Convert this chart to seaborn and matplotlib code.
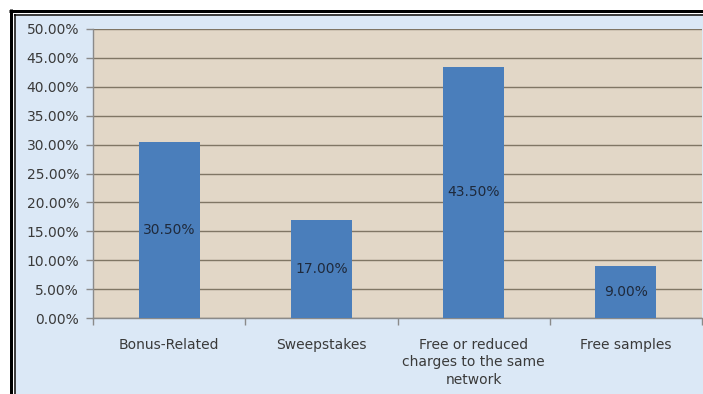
import matplotlib
matplotlib.use("Agg")
import matplotlib.pyplot as plt
from matplotlib.patches import Rectangle
from matplotlib.lines import Line2D
from matplotlib.ticker import FixedLocator, FuncFormatter
import seaborn as sns
import pandas as pd

categories = ["Bonus-Related", "Sweepstakes",
              "Free or reduced\ncharges to the same\nnetwork", "Free samples"]
shares = [30.5, 17.0, 43.5, 9.0]
y_ticks = [0, 5, 10, 15, 20, 25, 30, 35, 40, 45, 50]

df = pd.DataFrame({"category": categories, "share": shares})

sns.set_theme(style="white")
plt.rcParams["font.family"] = ["DejaVu Sans"]

W, H = 703, 394
fig = plt.figure(figsize=(W / 100, H / 100), dpi=100)
fig.patch.set_facecolor("white")

# light blue chart area inside a double black frame (left and top edges visible)
fig.patches.append(Rectangle((16 / W, 0), 1, 1 - 16 / H, transform=fig.transFigure,
                             facecolor="#dbe8f6", edgecolor="none", zorder=-10))
for x0, lw_px in [(10.5, 3.0), (14.75, 1.5)]:
    lw = lw_px * 0.72
    fig.lines.append(Line2D([x0 / W, x0 / W], [0, 1 - (x0 - lw_px / 2) / H],
                            transform=fig.transFigure, color="black", lw=lw,
                            solid_capstyle="butt", zorder=-5))
    fig.lines.append(Line2D([(x0 - lw_px / 2) / W, 1], [1 - x0 / H, 1 - x0 / H],
                            transform=fig.transFigure, color="black", lw=lw,
                            solid_capstyle="butt", zorder=-5))

left, right, top, bottom = 93, 702, 29, 318
ax = fig.add_axes([left / W, 1 - bottom / H, (right - left) / W, (bottom - top) / H])
ax.set_zorder(1)
ax.set_facecolor("#e2d7c7")

sns.barplot(data=df, x="category", y="share", color="#4a7ebb", saturation=1,
            width=0.4, ax=ax, zorder=3, edgecolor="none", linewidth=0)

ax.set_ylim(0, 50)
ax.set_xlim(-0.5, len(categories) - 0.5)
ax.yaxis.set_major_locator(FixedLocator(y_ticks))
ax.yaxis.set_major_formatter(FuncFormatter(lambda v, p: f"{v:.2f}%"))
ax.grid(axis="y", color="#807665", lw=1.0, zorder=1)
ax.set_axisbelow(True)

for s in ["top", "right"]:
    ax.spines[s].set_visible(False)
for s in ["left", "bottom"]:
    ax.spines[s].set_color("#8a8a8a")
    ax.spines[s].set_linewidth(1.0)

text_col = "#3a3a3a"
ax.tick_params(axis="y", which="major", length=5, width=1, color="#8a8a8a",
               labelsize=10, labelcolor=text_col, pad=5, left=True)
ax.set_xticks(range(len(categories)))
ax.set_xticklabels(categories, fontsize=10, color=text_col, linespacing=1.3, va="top")
ax.tick_params(axis="x", which="major", length=0, pad=14.5)
ax.set_xticks([i - 0.5 for i in range(len(categories) + 1)], minor=True)
ax.tick_params(axis="x", which="minor", length=5, width=1, color="#8a8a8a", bottom=True)
ax.set_xlabel("")
ax.set_ylabel("")

for bar, v in zip(ax.patches, shares):
    ax.text(bar.get_x() + bar.get_width() / 2, v / 2, f"{v:.2f}%",
            ha="center", va="center", fontsize=10, color="#1f2a3c", zorder=4)

fig.savefig("out.png", dpi=100)
